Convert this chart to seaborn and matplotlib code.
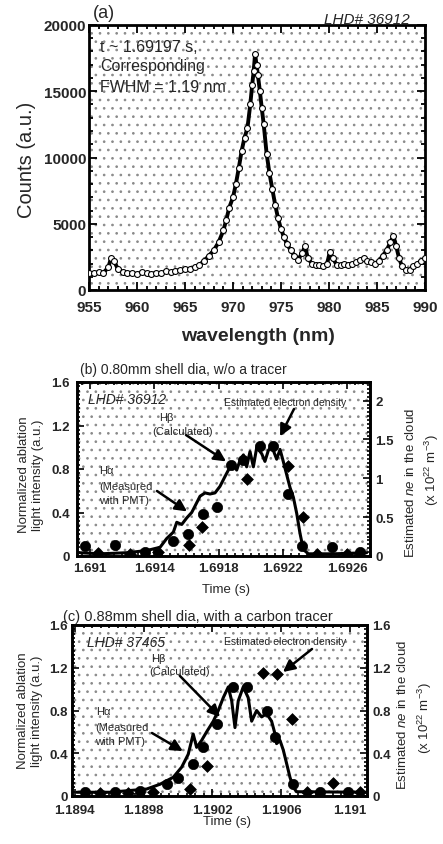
import numpy as np
import pandas as pd
import matplotlib
matplotlib.use("Agg")
import matplotlib.pyplot as plt
import seaborn as sns
from matplotlib.patches import Rectangle
from matplotlib.ticker import MultipleLocator, FixedLocator, FuncFormatter

sns.set_style("ticks")
plt.rcParams['font.family'] = ['Liberation Sans', 'DejaVu Sans']
plt.rcParams['mathtext.fontset'] = 'custom'
plt.rcParams['mathtext.rm'] = 'Liberation Sans'
plt.rcParams['mathtext.it'] = 'Liberation Sans:italic'
plt.rcParams['mathtext.bf'] = 'Liberation Sans:bold'
plt.rcParams['hatch.linewidth'] = 0.7

# ---------------- data: panel (a) spectrum ----------------
wl_nm = [955.0, 955.5, 956.0, 956.5, 957.0, 957.3, 957.6, 958.0, 958.5, 959.0,
         959.5, 960.0, 960.5, 961.0, 961.5, 962.0, 962.5, 963.0, 963.5, 964.0,
         964.5, 965.0, 965.5, 966.0, 966.5, 967.0, 967.5, 968.0, 968.5, 969.0,
         969.3, 969.6, 970.0, 970.3, 970.6, 970.9, 971.2, 971.5, 971.8, 972.0,
         972.15, 972.3, 972.45, 972.6, 972.8, 973.0, 973.2, 973.5, 973.8, 974.1,
         974.4, 974.7, 975.0, 975.3, 975.6, 976.0, 976.4, 976.8, 977.2, 977.5,
         977.8, 978.2, 978.6, 979.0, 979.4, 979.8, 980.1, 980.4, 980.8, 981.2,
         981.6, 982.0, 982.4, 982.8, 983.2, 983.6, 984.0, 984.4, 984.8, 985.2,
         985.6, 986.0, 986.4, 986.7, 987.0, 987.3, 987.6, 988.0, 988.4, 988.8,
         989.2, 989.6, 990.0]
counts = [1300, 1250, 1350, 1300, 1700, 2400, 2200, 1600, 1350, 1300,
          1250, 1200, 1350, 1250, 1200, 1300, 1250, 1400, 1350, 1450,
          1500, 1550, 1600, 1700, 1900, 2200, 2600, 3000, 3600, 4500,
          5300, 6200, 7000, 8000, 9200, 10500, 11500, 12200, 14000, 15500,
          16500, 17800, 17000, 16200, 15000, 13700, 12500, 10300, 8800, 7600,
          6400, 5400, 4600, 4000, 3500, 3000, 2600, 2300, 2800, 3300,
          2400, 2000, 1900, 1850, 1800, 2000, 2900, 2400, 1900, 1850,
          1950, 1900, 2000, 2100, 2300, 2400, 2200, 2100, 2000, 2200,
          2600, 3000, 3600, 4100, 3300, 2400, 1800, 1500, 1500, 1800,
          2000, 2200, 2400]

# ---------------- data: panel (b) ----------------
t_b_ha = [1.690938, 1.691062, 1.691228, 1.691353, 1.691436, 1.691477, 1.691519,
          1.691540, 1.691571, 1.691602, 1.691633, 1.691654, 1.691685, 1.691716,
          1.691747, 1.691778, 1.691809, 1.691840, 1.691872, 1.691892, 1.691913,
          1.691934, 1.691955, 1.691975, 1.691996, 1.692017, 1.692038, 1.692069,
          1.692089, 1.692110, 1.692131, 1.692162, 1.692183, 1.692203, 1.692224,
          1.692245, 1.692266, 1.692287, 1.692307, 1.692328, 1.692359, 1.692515,
          1.692722]
ha_b = [0.03, 0.02, 0.03, 0.05, 0.08, 0.16, 0.22,
        0.31, 0.29, 0.35, 0.40, 0.46, 0.55, 0.58,
        0.57, 0.58, 0.64, 0.73, 0.82, 0.86, 0.79,
        0.88, 0.93, 0.82, 0.96, 0.82, 1.00, 0.94,
        0.87, 0.97, 1.01, 0.89, 0.98, 0.87, 0.75,
        0.63, 0.54, 0.39, 0.21, 0.06, 0.02, 0.02,
        0.03]
t_b_hb = [1.690969, 1.691156, 1.691342, 1.691519, 1.691612, 1.691702, 1.691789,
          1.691878, 1.691953, 1.692058, 1.692141, 1.692234, 1.692318, 1.692505,
          1.692681]
hb_b = [0.09, 0.10, 0.04, 0.14, 0.20, 0.39, 0.45,
        0.84, 0.88, 1.01, 1.01, 0.57, 0.095, 0.08,
        0.04]
t_b_ne = [1.691050, 1.691249, 1.691423, 1.691616, 1.691695, 1.691976, 1.692234,
          1.692328, 1.692411, 1.692598]
ne_b = [0.04, 0.02, 0.05, 0.14, 0.37, 0.99, 1.16,
        0.50, 0.03, 0.03]

# ---------------- data: panel (c) ----------------
t_c_ha = [1.189410, 1.189604, 1.189817, 1.189895, 1.189972, 1.190021, 1.190059,
          1.190088, 1.190108, 1.190137, 1.190166, 1.190205, 1.190234, 1.190263,
          1.190292, 1.190312, 1.190331, 1.190350, 1.190379, 1.190408, 1.190428,
          1.190457, 1.190486, 1.190515, 1.190544, 1.190564, 1.190573, 1.190593,
          1.190612, 1.190632, 1.190651, 1.190670, 1.190690, 1.191097]
ha_c = [0.035, 0.035, 0.065, 0.11, 0.175, 0.27, 0.39,
        0.58, 0.455, 0.52, 0.60, 0.70, 0.80, 0.92,
        1.02, 0.89, 0.64, 0.89, 1.02, 0.92, 0.70,
        0.80, 0.74, 0.77, 0.70, 0.58, 0.49, 0.52,
        0.43, 0.30, 0.175, 0.08, 0.04, 0.035]
t_c_hb = [1.189458, 1.189633, 1.189778, 1.189934, 1.190001, 1.190088, 1.190146,
          1.190224, 1.190321, 1.190399, 1.190515, 1.190564, 1.190670, 1.190825,
          1.190990]
hb_c = [0.04, 0.04, 0.05, 0.11, 0.17, 0.30, 0.46,
        0.67, 1.02, 1.02, 0.80, 0.55, 0.11, 0.04,
        0.04]
t_c_ne = [1.189545, 1.189708, 1.189854, 1.190069, 1.190166, 1.190494, 1.190573,
          1.190661, 1.190748, 1.190903, 1.191058]
ne_c = [0.03, 0.03, 0.04, 0.07, 0.28, 1.15, 1.14,
        0.72, 0.04, 0.12, 0.04]

# ticks
a_xticks = [955, 960, 965, 970, 975, 980, 985, 990]
a_yticks = [0, 5000, 10000, 15000, 20000]
b_xticks = [1.691, 1.6914, 1.6918, 1.6922, 1.6926]
b_yticks = [0, 0.4, 0.8, 1.2, 1.6]
b_y2ticks = [0, 0.5, 1, 1.5, 2]
c_xticks = [1.1894, 1.1898, 1.1902, 1.1906, 1.191]
c_yticks = [0, 0.4, 0.8, 1.2, 1.6]
c_y2ticks = [0, 0.4, 0.8, 1.2, 1.6]

# ---------------- figure ----------------
W, H = 443, 845
fig = plt.figure(figsize=(W / 100, H / 100), dpi=100)


def rect(l, t, r, b):
    return [l / W, 1 - b / H, (r - l) / W, (b - t) / H]


def fx(x):
    return x / W


def fy(y):
    return 1 - y / H


gfmt = FuncFormatter(lambda v, p: "%g" % round(v, 6))


def frame(ax, lw=1.8):
    for s in ax.spines.values():
        s.set_linewidth(lw)
        s.set_color('k')


def dots(ax):
    r = Rectangle((0, 0), 1, 1, transform=ax.transAxes, facecolor='none',
                  edgecolor='#8a8a8a', hatch='..', linewidth=0, zorder=0)
    ax.add_patch(r)


# ---- panel (a)
axa = fig.add_axes(rect(89, 26, 425, 291))
dfa = pd.DataFrame({"wl": wl_nm, "counts": counts})
dots(axa)
sns.lineplot(data=dfa, x="wl", y="counts", ax=axa, color='k', lw=2.8,
             estimator=None, sort=False, zorder=3)
sns.scatterplot(data=dfa, x="wl", y="counts", ax=axa, marker='o', s=18,
                facecolor='white', edgecolor='k', linewidth=0.8, zorder=4)
axa.set_xlim(955, 990)
axa.set_ylim(0, 20000)
axa.xaxis.set_major_locator(FixedLocator(a_xticks))
axa.yaxis.set_major_locator(FixedLocator(a_yticks))
axa.xaxis.set_minor_locator(MultipleLocator(1))
axa.yaxis.set_minor_locator(MultipleLocator(1000))
axa.set_xlabel("")
axa.set_ylabel("")
frame(axa, 2.0)
axa.tick_params(which='both', direction='in', top=True, right=True, width=1.3, color='k')
axa.tick_params(which='major', length=6, labelsize=11, pad=7)
axa.tick_params(which='minor', length=3)
axa.tick_params(axis='y', which='major', pad=2)
for lab in axa.get_xticklabels() + axa.get_yticklabels():
    lab.set_fontweight('bold')

fig.text(fx(93), fy(13), "(a)", fontsize=13, ha='left', va='center')
fig.text(fx(410), fy(20), "LHD# 36912", fontsize=11, style='italic',
         ha='right', va='center')
fig.text(fx(100), fy(47), "t ~ 1.69197 s,", fontsize=11.5, ha='left', va='center')
fig.text(fx(100), fy(67), "Corresponding", fontsize=11.5, ha='left', va='center')
fig.text(fx(100), fy(87), "FWHM = 1.19 nm", fontsize=11.5, ha='left', va='center')
fig.text(fx(27), fy(160), "Counts (a.u.)", fontsize=14.5, rotation=90,
         ha='center', va='center')
fig.text(fx(258), fy(337), "wavelength (nm)", fontsize=14, fontweight='bold',
         ha='center', va='center')


def time_panel(box, t_ha, ha, t_hb, hb, t_ne, ne, xlim, xt, yt, y2t, y2lim,
               ylpad, y2pad, xpad):
    ax = fig.add_axes(box)
    dots(ax)
    dl = pd.DataFrame({"t": t_ha, "v": ha})
    dc = pd.DataFrame({"t": t_hb, "v": hb})
    dn = pd.DataFrame({"t": t_ne, "v": ne})
    sns.lineplot(data=dl, x="t", y="v", ax=ax, color='k', lw=2.2,
                 estimator=None, sort=False, zorder=3)
    sns.scatterplot(data=dc, x="t", y="v", ax=ax, marker='o', s=55,
                    color='k', edgecolor='k', linewidth=0.5, zorder=4)
    ax.set_xlim(*xlim)
    ax.set_ylim(0, 1.6)
    ax2 = ax.twinx()
    sns.scatterplot(data=dn, x="t", y="v", ax=ax2, marker='D', s=36,
                    color='k', edgecolor='k', linewidth=0.5, zorder=4)
    ax2.set_ylim(*y2lim)
    ax2.set_xlim(*xlim)
    for a in (ax, ax2):
        a.set_xlabel("")
        a.set_ylabel("")
        frame(a, 1.9)
    ax.xaxis.set_major_locator(FixedLocator(xt))
    ax.xaxis.set_minor_locator(MultipleLocator(0.00005))
    ax.xaxis.set_major_formatter(gfmt)
    ax.yaxis.set_major_locator(FixedLocator(yt))
    ax.yaxis.set_minor_locator(MultipleLocator(0.04))
    ax.yaxis.set_major_formatter(gfmt)
    ax2.yaxis.set_major_locator(FixedLocator(y2t))
    ax2.yaxis.set_minor_locator(MultipleLocator(y2t[1] / 10))
    ax2.yaxis.set_major_formatter(gfmt)
    ax.tick_params(which='both', direction='in', top=True, right=False,
                   width=1.2, color='k')
    ax.tick_params(which='major', length=5, labelsize=9.5)
    ax.tick_params(which='minor', length=2.5)
    ax.tick_params(axis='y', which='major', pad=ylpad)
    ax.tick_params(axis='x', which='major', pad=xpad)
    ax2.tick_params(which='both', direction='in', width=1.2, color='k')
    ax2.tick_params(which='major', length=5, labelsize=9.5, pad=y2pad)
    ax2.tick_params(which='minor', length=2.5)
    for lab in ax.get_xticklabels() + ax.get_yticklabels() + ax2.get_yticklabels():
        lab.set_fontweight('bold')
    return ax, ax2


arrow = dict(arrowstyle='-|>,head_length=0.7,head_width=0.35', lw=1.8,
             color='k', shrinkA=0, shrinkB=0)

# ---- panel (b)
axb, axb2 = time_panel(rect(77, 383, 370, 557), t_b_ha, ha_b, t_b_hb, hb_b,
                       t_b_ne, ne_b, (1.690919, 1.692743), b_xticks, b_yticks,
                       b_y2ticks, (0, 2.24), 5, 4, 4)
fig.text(fx(80), fy(370), "(b) 0.80mm shell dia, w/o a tracer", fontsize=10,
         ha='left', va='center')
fig.text(fx(88), fy(400), "LHD# 36912", fontsize=10, style='italic',
         ha='left', va='center', zorder=6)
fig.text(fx(285), fy(403), "Estimated electron density", fontsize=7.5,
         ha='center', va='center', zorder=6)
fig.text(fx(166), fy(418), "H\u03b2", fontsize=8, ha='center', va='center')
fig.text(fx(183), fy(432), "(Calculated)", fontsize=8, ha='center', va='center')
fig.text(fx(99), fy(471), "H\u03b1", fontsize=8, ha='left', va='center')
fig.text(fx(99), fy(487), "(Measured", fontsize=8, ha='left', va='center')
fig.text(fx(99), fy(501), "with PMT)", fontsize=8, ha='left', va='center')
axb.annotate("", xy=(1.692183, 1.10), xycoords='data',
             xytext=(fx(294), fy(410)), textcoords='figure fraction',
             arrowprops=arrow, zorder=6)
axb.annotate("", xy=(1.691847, 0.87), xycoords='data',
             xytext=(fx(186), fy(436)), textcoords='figure fraction',
             arrowprops=arrow, zorder=6)
axb.annotate("", xy=(1.691604, 0.41), xycoords='data',
             xytext=(fx(157), fy(492)), textcoords='figure fraction',
             arrowprops=arrow, zorder=6)
fig.text(fx(31), fy(475), "Normalized ablation\nlight intensity (a.u.)",
         fontsize=9.5, rotation=90, ha='center', va='center', linespacing=1.15)
fig.text(fx(410), fy(483), "Estimated $\\it{ne}$ in the cloud", fontsize=9.5,
         rotation=90, ha='center', va='center')
fig.text(fx(432), fy(470), "(x 10$^{22}$ m$^{-3}$)", fontsize=9.5,
         rotation=90, ha='center', va='center')
fig.text(fx(226), fy(590), "Time (s)", fontsize=9.5, ha='center', va='center')

# ---- panel (c)
axc, axc2 = time_panel(rect(72, 626, 367, 797), t_c_ha, ha_c, t_c_hb, hb_c,
                       t_c_ne, ne_c, (1.189383, 1.191099), c_xticks, c_yticks,
                       c_y2ticks, (0, 1.6), 3, 4, 6)
fig.text(fx(63), fy(617), "(c) 0.88mm shell dia, with a carbon tracer",
         fontsize=10.5, ha='left', va='center')
fig.text(fx(87), fy(643), "LHD# 37465", fontsize=10, style='italic',
         ha='left', va='center', zorder=6)
fig.text(fx(285), fy(642), "Estimated electron density", fontsize=7.5,
         ha='center', va='center', zorder=6)
fig.text(fx(151), fy(659), "H\u03b2", fontsize=8, ha='left', va='center')
fig.text(fx(149), fy(672), "(Calculated)", fontsize=8, ha='left', va='center')
fig.text(fx(96), fy(712), "H\u03b1", fontsize=8, ha='left', va='center')
fig.text(fx(95), fy(728), "(Measured", fontsize=8, ha='left', va='center')
fig.text(fx(95), fy(742), "with PMT)", fontsize=8, ha='left', va='center')
axc.annotate("", xy=(1.190610, 1.16), xycoords='data',
             xytext=(fx(312), fy(650)), textcoords='figure fraction',
             arrowprops=arrow, zorder=6)
axc.annotate("", xy=(1.190244, 0.74), xycoords='data',
             xytext=(fx(180), fy(677)), textcoords='figure fraction',
             arrowprops=arrow, zorder=6)
axc.annotate("", xy=(1.190028, 0.42), xycoords='data',
             xytext=(fx(152), fy(734)), textcoords='figure fraction',
             arrowprops=arrow, zorder=6)
fig.text(fx(30), fy(711), "Normalized ablation\nlight intensity (a.u.)",
         fontsize=9.5, rotation=90, ha='center', va='center', linespacing=1.15)
fig.text(fx(402), fy(715), "Estimated $\\it{ne}$ in the cloud", fontsize=9.5,
         rotation=90, ha='center', va='center')
fig.text(fx(425), fy(718), "(x 10$^{22}$ m$^{-3}$)", fontsize=9.5,
         rotation=90, ha='center', va='center')
fig.text(fx(227), fy(822), "Time (s)", fontsize=9.5, ha='center', va='center')

fig.savefig("out.png", dpi=100)
